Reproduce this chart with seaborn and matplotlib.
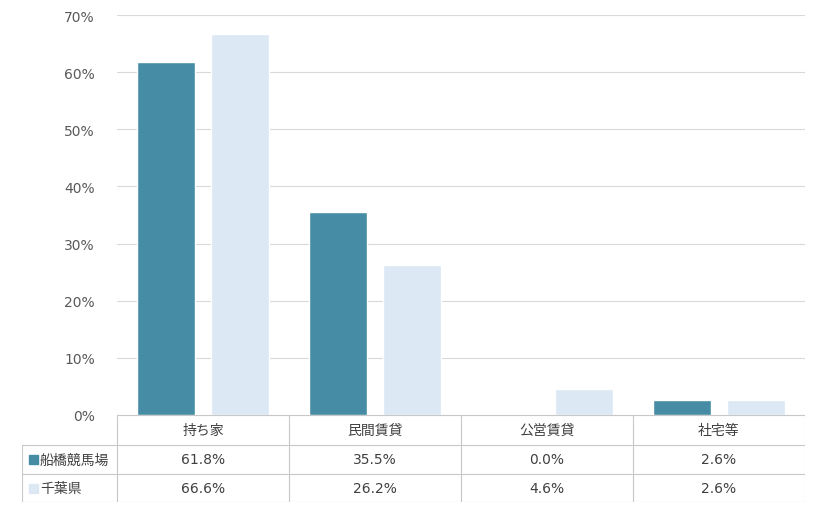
import matplotlib
matplotlib.use("Agg")
import matplotlib.pyplot as plt
import seaborn as sns
import pandas as pd

# data
categories = ['持ち家', '民間賃貸', '公営賃貸', '社宅等']
series_names = ['船橋競馬場', '千葉県']
funabashi = [61.8, 35.5, 0.0, 2.6]
chiba = [66.6, 26.2, 4.6, 2.6]
colors = ['#468CA5', '#DCE8F4']

df = pd.DataFrame({
    'category': categories * 2,
    'series': [series_names[0]] * 4 + [series_names[1]] * 4,
    'value': funabashi + chiba,
})

sns.set_theme(style='white')
plt.rcParams['font.family'] = ['DejaVu Sans', 'Noto Sans CJK JP']

fig = plt.figure(figsize=(8.2, 5.1), dpi=100)
ax = fig.add_axes([117 / 820, 1 - 416 / 510, 688 / 820, 400 / 510])

sns.barplot(data=df, x='category', y='value', hue='series', palette=colors,
            width=0.86, gap=0.216, ax=ax, legend=False, saturation=1)

ax.set_ylim(0, 70)
ax.set_xlim(-0.5, len(categories) - 0.5)
ax.set_yticks(range(0, 80, 10))
ax.set_yticklabels([f'{v}%' for v in range(0, 80, 10)], color='#595959', fontsize=10)
ax.tick_params(axis='y', length=0, pad=16)
ax.set_xticks([])
ax.set_xlabel('')
ax.set_ylabel('')
ax.grid(axis='y', color='#D9D9D9', linewidth=0.8)
ax.set_axisbelow(True)
for s in ax.spines.values():
    s.set_visible(False)

# data table below the chart
tab = fig.add_axes([22 / 820, 7 / 510, 783 / 820, 87 / 510])
tab.set_xlim(22, 805)
tab.set_ylim(503, 416)
tab.axis('off')
lc = '#C8C8C8'
x0, cw = 117, 172
rows_y = [416, 446, 475, 503]
tab.plot([x0, 805], [416, 416], color=lc, lw=0.8)
for y in rows_y[1:]:
    tab.plot([22, 805], [y, y], color=lc, lw=0.8)
tab.plot([22, 22], [446, 503], color=lc, lw=0.8)
for i in range(len(categories) + 1):
    tab.plot([x0 + i * cw] * 2, [416, 503], color=lc, lw=0.8)

txt = '#404040'
for i, cat in enumerate(categories):
    cx = x0 + (i + 0.5) * cw
    tab.text(cx, 431, cat, ha='center', va='center', fontsize=10, color=txt)
    tab.text(cx, 460.5, f'{funabashi[i]:.1f}%', ha='center', va='center', fontsize=10, color=txt)
    tab.text(cx, 489, f'{chiba[i]:.1f}%', ha='center', va='center', fontsize=10, color=txt)

for name, col, yc in zip(series_names, colors, [460.5, 489]):
    tab.add_patch(plt.Rectangle((29, yc - 4.5), 9, 9, color=col))
    tab.text(40, yc, name, ha='left', va='center', fontsize=10, color=txt)

fig.savefig('out.png', dpi=100)
